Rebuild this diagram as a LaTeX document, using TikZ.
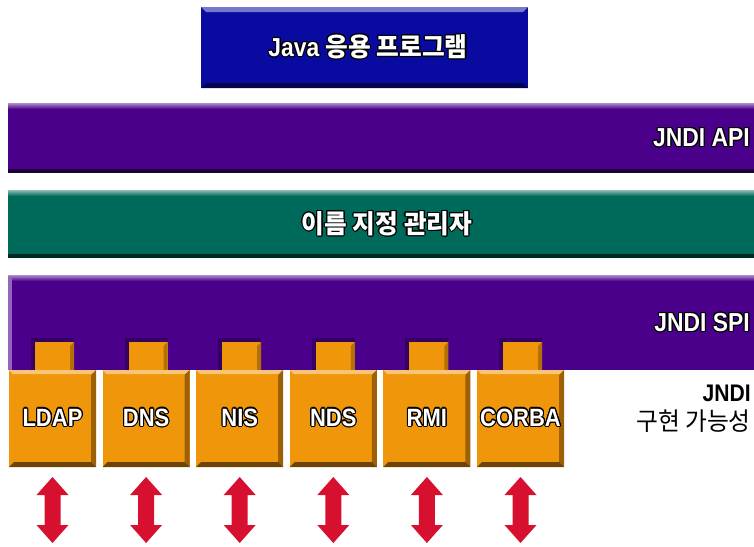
\documentclass[tikz,border=0pt]{standalone}
\usepackage{fontspec}
\setmainfont{Liberation Sans}[FakeStretch=0.88]
\newfontfamily\kofont{Noto Sans CJK KR}[FakeStretch=0.95]
\usepackage{contour}
\contourlength{1.1pt}
\contournumber{16}

\definecolor{javablue}{RGB}{8,10,160}
\definecolor{apipurple}{RGB}{75,0,140}
\definecolor{mgrteal}{RGB}{0,106,90}
\definecolor{spiorange}{RGB}{240,150,10}
\definecolor{arrowred}{RGB}{214,16,46}

\tikzset{
    barlabel/.style={text=white, inner sep=0pt, font=\bfseries\fontsize{26}{28}\selectfont},
    boxlabel/.style={text=white, inner sep=0pt, font=\bfseries\fontsize{25}{27}\selectfont},
}

\begin{document}
\begin{tikzpicture}[x=1pt, y=-1pt]
    \useasboundingbox (0,0) rectangle (754,546);

    % Java application
    \fill[javablue] (201,7) rectangle (528,88);
    \fill[javablue!55!white] (201,7) -- (528,7) -- (523,12) -- (206,12) -- cycle;
    \fill[javablue!50!black] (201,88) -- (528,88) -- (523,83) -- (206,83) -- cycle;
    \node[barlabel] (java) at (368,47) {\contour{black}{Java \kofont 응용 프로그램}};

    % JNDI API
    \fill[apipurple] (8,103) rectangle (754,173);
    \shade[top color=apipurple!45!white, bottom color=apipurple] (8,103) rectangle (754,109);
    \fill[apipurple!40!black] (8,169) rectangle (754,173);
    \node[barlabel, anchor=east] (api) at (750,138) {\contour{black}{JNDI API}};

    % Naming manager
    \fill[mgrteal] (8,190) rectangle (754,258);
    \shade[top color=mgrteal!45!white, bottom color=mgrteal] (8,190) rectangle (754,196);
    \fill[mgrteal!40!black] (8,254) rectangle (754,258);
    \node[barlabel] (manager) at (387,224) {\contour{black}{\kofont 이름 지정 관리자}};

    % JNDI SPI
    \fill[apipurple] (8,275) rectangle (754,370);
    \shade[top color=apipurple!45!white, bottom color=apipurple] (8,275) rectangle (754,281);
    \fill[apipurple!60!white] (8,277) rectangle (12,370);
    \node[barlabel, anchor=east] (spi) at (750,323) {\contour{black}{JNDI SPI}};

    % Service providers
    \foreach \name [count=\i from 0] in {LDAP,DNS,NIS,NDS,RMI,CORBA} {
        \pgfmathsetmacro\xl{9+93.6*\i}
        \pgfmathsetmacro\xc{\xl+43.5}
        \fill[apipurple!70!black] (\xl+22,338) rectangle (\xl+65,370);
        \fill[spiorange] (\xl+26,342) rectangle (\xl+65,370);
        \fill[spiorange!75!black] (\xl+61,346) -- (\xl+65,342) -- (\xl+65,370) -- (\xl+61,370) -- cycle;
        \fill[spiorange] (\xl,370) rectangle (\xl+87,467);
        \fill[spiorange!55!white] (\xl,370) -- (\xl+87,370) -- (\xl+83,374) -- (\xl+4,374) -- cycle;
        \fill[spiorange!65!black] (\xl+87,370) -- (\xl+87,467) -- (\xl+82,462) -- (\xl+82,375) -- cycle;
        \fill[spiorange!45!black] (\xl,467) -- (\xl+87,467) -- (\xl+82,462) -- (\xl+5,462) -- cycle;
        \node[boxlabel] (\name) at (\xc,418) {\contour{black}{\name}};
        % two-way arrow
        \fill[arrowred] (\xc,477) -- (\xc+16,495) -- (\xc+8,495) -- (\xc+8,525) -- (\xc+16,525)
            -- (\xc,543) -- (\xc-16,525) -- (\xc-8,525) -- (\xc-8,495) -- (\xc-16,495) -- cycle;
    }

    % Labels
    \node[anchor=east, inner sep=0pt, font=\bfseries\fontsize{24}{26}\selectfont] (jndi) at (751,393) {JNDI};
    \node[anchor=west, inner sep=0pt, font=\kofont\fontsize{25}{27}\selectfont] (impl) at (636,421) {구현 가능성};

\end{tikzpicture}
\end{document}
